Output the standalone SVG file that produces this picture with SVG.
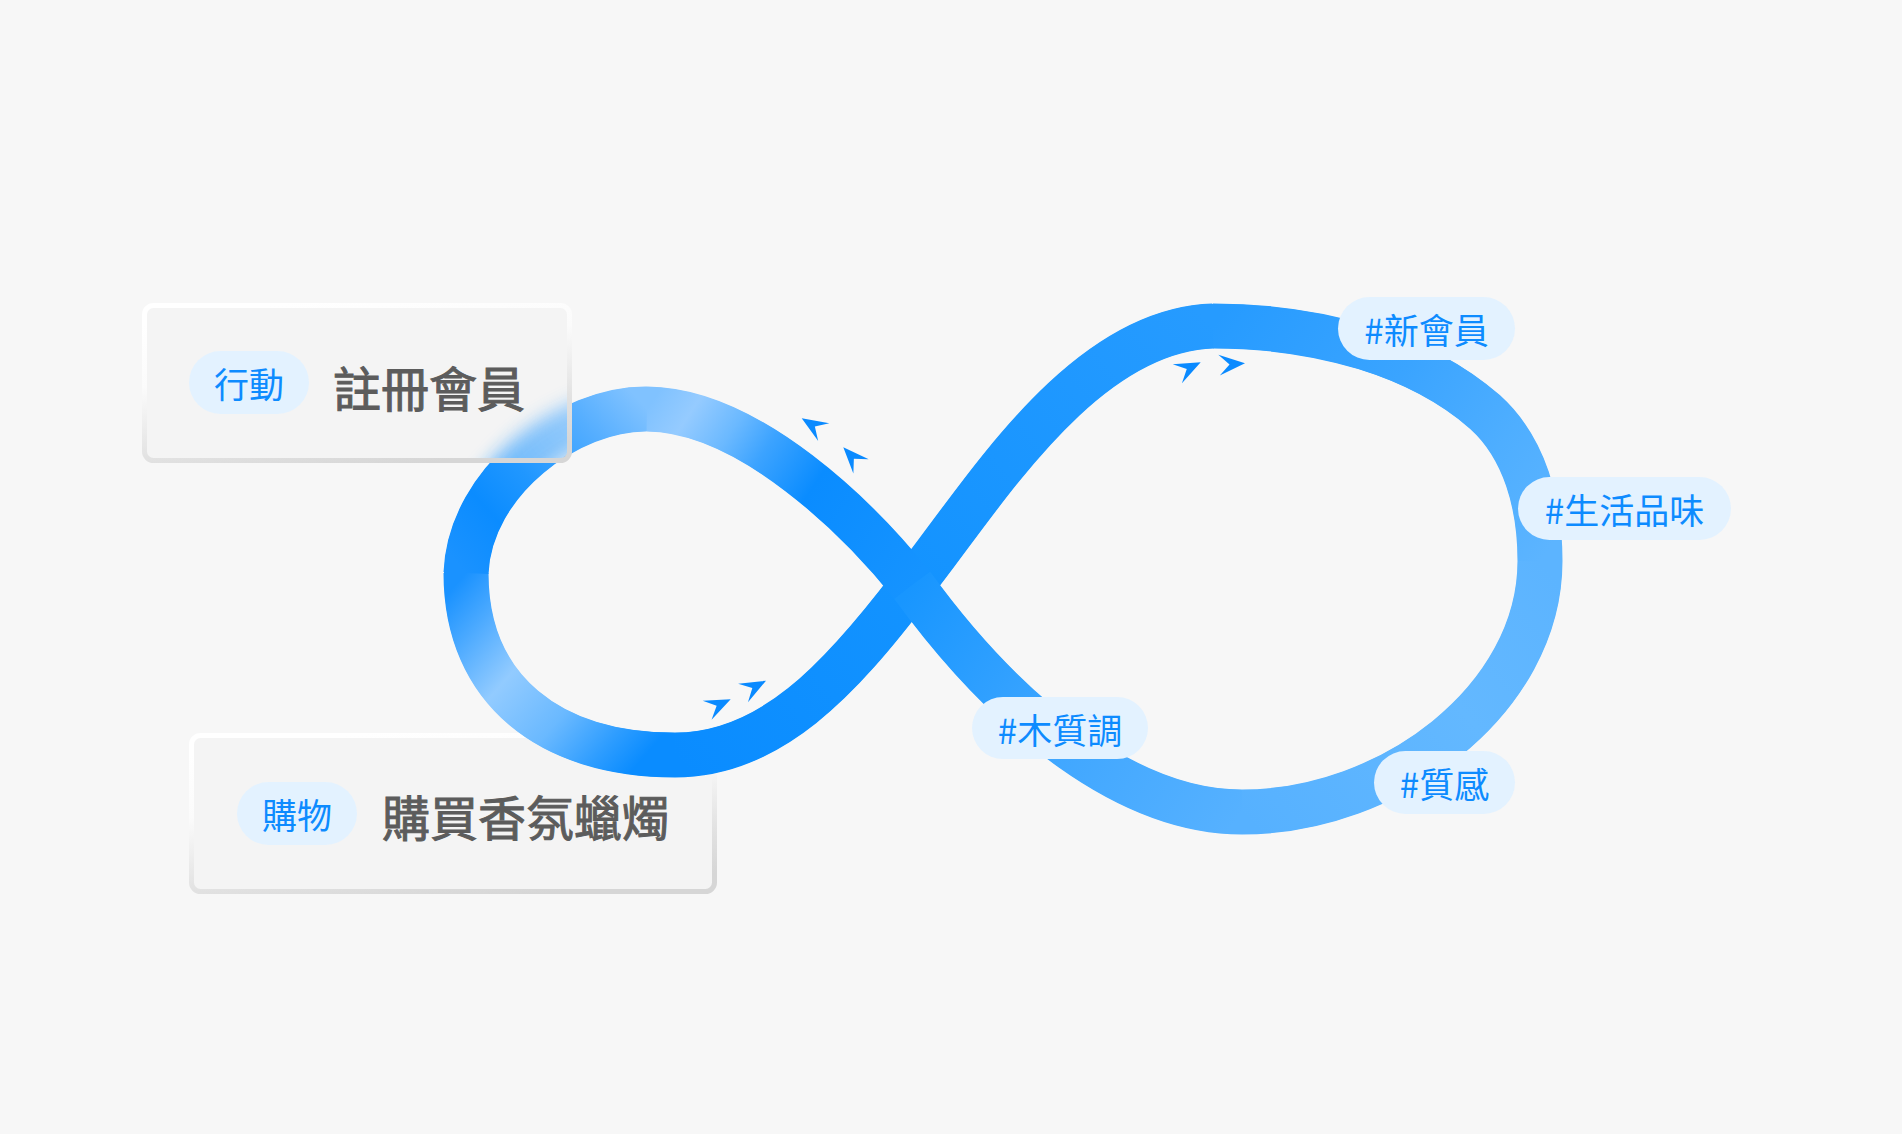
<svg xmlns="http://www.w3.org/2000/svg" width="1902" height="1134" viewBox="0 0 1902 1134">
<defs>
<style>
.band{fill:none;stroke-width:45;stroke-linecap:butt}
.under .band{stroke-linecap:round;stroke-width:44}
.pill{fill:#e3f2ff}
.pt{font-family:"Noto Sans CJK TC","Noto Sans CJK SC",sans-serif;font-size:35px;fill:#0d8bff;text-anchor:middle;dominant-baseline:central}
.mt{font-family:"Noto Sans CJK TC","Noto Sans CJK SC",sans-serif;font-size:48px;font-weight:400;fill:#5c5c5c;stroke:#5c5c5c;stroke-width:1;dominant-baseline:central}
.arr{fill:#0a8aff}
.box{fill:#f4f4f4;stroke:url(#boxStroke);stroke-width:5}
</style>
<linearGradient id="boxStroke" x1="0.3" y1="0" x2="0.7" y2="1">
<stop offset="0" stop-color="#ffffff"/><stop offset="0.35" stop-color="#fbfbfb"/><stop offset="0.75" stop-color="#e2e2e2"/><stop offset="1" stop-color="#d6d6d6"/>
</linearGradient>
<linearGradient id="gA" gradientUnits="userSpaceOnUse" x1="912" y1="585" x2="647" y2="409">
<stop offset="0" stop-color="#1593ff"/><stop offset="0.43" stop-color="#0a8cff"/><stop offset="0.62" stop-color="#3ca3ff"/><stop offset="0.74" stop-color="#6bb9ff"/><stop offset="0.88" stop-color="#95cbff"/><stop offset="1" stop-color="#80c2ff"/>
</linearGradient>
<linearGradient id="gB" gradientUnits="userSpaceOnUse" x1="647" y1="409" x2="466" y2="573">
<stop offset="0" stop-color="#80c2ff"/><stop offset="0.23" stop-color="#55aeff"/><stop offset="0.55" stop-color="#2097ff"/><stop offset="0.76" stop-color="#0b8cff"/><stop offset="1" stop-color="#1a92ff"/>
</linearGradient>
<linearGradient id="gC" gradientUnits="userSpaceOnUse" x1="466" y1="573" x2="675" y2="755">
<stop offset="0" stop-color="#1a92ff"/><stop offset="0.15" stop-color="#4aa9ff"/><stop offset="0.36" stop-color="#92cbff"/><stop offset="0.6" stop-color="#6ab9ff"/><stop offset="0.79" stop-color="#2e9dff"/><stop offset="0.92" stop-color="#0a8cff"/><stop offset="1" stop-color="#0a8cff"/>
</linearGradient>
<linearGradient id="gD" gradientUnits="userSpaceOnUse" x1="675" y1="755" x2="912" y2="585">
<stop offset="0" stop-color="#0a8cff"/><stop offset="1" stop-color="#1393ff"/>
</linearGradient>
<linearGradient id="gE" gradientUnits="userSpaceOnUse" x1="912" y1="585" x2="1213" y2="326">
<stop offset="0" stop-color="#1393ff"/><stop offset="1" stop-color="#269bff"/>
</linearGradient>
<linearGradient id="gF" gradientUnits="userSpaceOnUse" x1="1213" y1="326" x2="1540" y2="561">
<stop offset="0" stop-color="#269bff"/><stop offset="0.45" stop-color="#3aa4ff"/><stop offset="0.75" stop-color="#4eaeff"/><stop offset="1" stop-color="#5cb4ff"/>
</linearGradient>
<linearGradient id="gG" gradientUnits="userSpaceOnUse" x1="1540" y1="561" x2="1242" y2="812">
<stop offset="0" stop-color="#5cb4ff"/><stop offset="0.4" stop-color="#63b8ff"/><stop offset="1" stop-color="#56b1ff"/>
</linearGradient>
<linearGradient id="gH" gradientUnits="userSpaceOnUse" x1="1242" y1="812" x2="912" y2="585">
<stop offset="0" stop-color="#56b1ff"/><stop offset="0.5" stop-color="#3ea6ff"/><stop offset="1" stop-color="#1896ff"/>
</linearGradient>
<filter id="blur" x="-50%" y="-50%" width="200%" height="200%"><feGaussianBlur stdDeviation="9"/></filter>
<clipPath id="box1clip"><rect x="147" y="308" width="420" height="150" rx="6"/></clipPath>
<path id="arrow" d="M0,0 L-26,-10.5 L-15.5,0 L-26,10.5 Z"/>
<path id="pD" d="M675,755 C770,755 840,680 912,585"/>
<path id="pE" d="M912,585 C980,500 1080,330 1213,326"/>
<path id="pF" d="M1213,326 C1320,326 1420,355 1485,412 C1525,448 1540,505 1540,561"/>
<path id="pG" d="M1540,561 C1540,700 1390,812 1242,812"/>
<path id="pH" d="M1242,812 C1130,812 1010,720 912,585"/>
<path id="pC" d="M466,573 C466,690 550,755 675,755"/>
<path id="pB" d="M647,409 C570,408 470,480 466,573"/>
<path id="pA" d="M912,585 C860,520 750,410 647,409"/>
</defs>
<rect width="1902" height="1134" fill="#f7f7f7"/>

<g id="node-buy">
<rect class="box" x="191.5" y="735.5" width="523" height="156" rx="9"/>
</g>

<g id="connectors">
<g class="under">
<use href="#pD" class="band" stroke="url(#gD)"/>
<use href="#pE" class="band" stroke="url(#gE)"/>
<use href="#pF" class="band" stroke="url(#gF)"/>
<use href="#pG" class="band" stroke="url(#gG)"/>
<use href="#pH" class="band" stroke="url(#gH)"/>
<use href="#pC" class="band" stroke="url(#gC)"/>
<use href="#pB" class="band" stroke="url(#gB)"/>
<use href="#pA" class="band" stroke="url(#gA)"/>
</g>
<use href="#pD" class="band" stroke="url(#gD)"/>
<use href="#pE" class="band" stroke="url(#gE)"/>
<use href="#pF" class="band" stroke="url(#gF)"/>
<use href="#pG" class="band" stroke="url(#gG)"/>
<use href="#pH" class="band" stroke="url(#gH)"/>
<use href="#pC" class="band" stroke="url(#gC)"/>
<use href="#pB" class="band" stroke="url(#gB)"/>
<use href="#pA" class="band" stroke="url(#gA)"/>
</g>

<g id="node-register">
<rect class="box" x="144.5" y="305.5" width="425" height="155" rx="9"/>
<g clip-path="url(#box1clip)" opacity="0.6">
<use href="#pB" class="band" stroke="url(#gB)" filter="url(#blur)"/>
</g>
<rect class="pill" x="189" y="351" width="120" height="63" rx="31.5"/>
<text class="pt" x="249" y="382.5">行動</text>
<text class="mt" x="333" y="386">註冊會員</text>
</g>

<g id="node-buy-text">
<rect class="pill" x="237" y="782" width="120" height="63" rx="31.5"/>
<text class="pt" x="297" y="813.5">購物</text>
<text class="mt" x="382" y="815">購買香氛蠟燭</text>
</g>

<g id="arrows">
<use href="#arrow" class="arr" transform="translate(801.7,418.3) rotate(212)"/>
<use href="#arrow" class="arr" transform="translate(843.3,447.3) rotate(227)"/>
<use href="#arrow" class="arr" transform="translate(730.7,699.3) rotate(-25)"/>
<use href="#arrow" class="arr" transform="translate(766,680.7) rotate(-28)"/>
<use href="#arrow" class="arr" transform="translate(1200.7,362.3) rotate(-26)"/>
<use href="#arrow" class="arr" transform="translate(1245,363.3) rotate(-4)"/>
</g>

<g id="tag-new-member">
<rect class="pill" x="1338" y="297" width="177" height="63" rx="31.5"/>
<text class="pt" x="1426.5" y="328.5">#新會員</text>
</g>
<g id="tag-lifestyle">
<rect class="pill" x="1518" y="477" width="213" height="63" rx="31.5"/>
<text class="pt" x="1624.5" y="508.5">#生活品味</text>
</g>
<g id="tag-wood">
<rect class="pill" x="972" y="697" width="176" height="62" rx="31"/>
<text class="pt" x="1060" y="728">#木質調</text>
</g>
<g id="tag-texture">
<rect class="pill" x="1374" y="751" width="141" height="63" rx="31.5"/>
<text class="pt" x="1444.5" y="782.5">#質感</text>
</g>
</svg>
